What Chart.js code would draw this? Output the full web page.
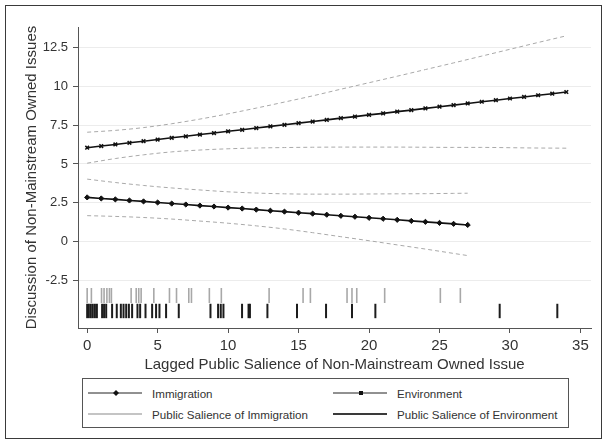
<!DOCTYPE html>
<html><head><meta charset="utf-8">
<script src="https://cdn.jsdelivr.net/npm/chart.js@4.4.1/dist/chart.umd.min.js"></script>
<style>
html,body{margin:0;padding:0;background:#fff;}
#wrap{position:relative;width:603px;height:444px;overflow:hidden;font-family:"Liberation Sans",Arial,sans-serif;}
#frame{position:absolute;left:5px;top:5px;width:597px;height:434px;border:1.5px solid #3a3a3a;box-sizing:border-box;pointer-events:none;}
canvas{position:absolute;left:0;top:0;}
#legend{position:absolute;left:82px;top:378px;width:487px;height:50px;border:1px solid #555;box-sizing:border-box;font-size:11.6px;color:#333;background:#fff;}
.item{position:absolute;display:flex;align-items:center;height:16px;white-space:nowrap;}
.item svg{margin-right:10px;display:block;}
</style></head>
<body>
<div id="wrap">
<canvas id="c" width="603" height="444"></canvas>
<div id="frame"></div>
<div id="legend">
  <div class="item" style="left:5px;top:6px;"><svg width="54" height="10"><line x1="0" y1="5" x2="54" y2="5" stroke="#222" stroke-width="1"/><polygon points="28,2 31,5 28,8 25,5" fill="#111"/></svg><span>Immigration</span></div>
  <div class="item" style="left:250px;top:6px;"><svg width="54" height="10"><line x1="0" y1="5" x2="54" y2="5" stroke="#222" stroke-width="1"/><rect x="26" y="3" width="4" height="4" fill="#111"/></svg><span>Environment</span></div>
  <div class="item" style="left:5px;top:27px;"><svg width="54" height="10"><line x1="0" y1="5" x2="54" y2="5" stroke="#c4c4c4" stroke-width="2"/></svg><span>Public Salience of Immigration</span></div>
  <div class="item" style="left:250px;top:27px;"><svg width="54" height="10"><line x1="0" y1="5" x2="54" y2="5" stroke="#3a3a3a" stroke-width="2"/></svg><span>Public Salience of Environment</span></div>
</div>
</div>
<script>
// ---- data ----
const xTicks = [0, 5, 10, 15, 20, 25, 30, 35];
const yTicks = [-2.5, 0, 2.5, 5, 7.5, 10, 12.5];
const yTickLabels = ["-2.5", "0", "2.5", "5", "7.5", "10", "12.5"];

const immX = [0,1,2,3,4,5,6,7,8,9,10,11,12,13,14,15,16,17,18,19,20,21,22,23,24,25,26,27];
const immPred = [2.84,2.77,2.71,2.64,2.58,2.51,2.44,2.38,2.31,2.25,2.18,2.12,2.05,1.98,1.92,1.85,1.79,1.72,1.65,1.59,1.52,1.46,1.39,1.32,1.26,1.19,1.13,1.06];

const envX = [0,1,2,3,4,5,6,7,8,9,10,11,12,13,14,15,16,17,18,19,20,21,22,23,24,25,26,27,28,29,30,31,32,33,34];
const envPred = [6.05,6.16,6.26,6.37,6.47,6.58,6.69,6.79,6.90,7.00,7.11,7.21,7.32,7.43,7.53,7.64,7.74,7.85,7.96,8.06,8.17,8.27,8.38,8.48,8.59,8.70,8.80,8.91,9.02,9.12,9.23,9.33,9.44,9.54,9.65];

const immCiX = [0,2,4,6,8,10,12,14,16,18,20,22,24,26,27];
const immUpper = [4.02,3.80,3.61,3.45,3.32,3.20,3.12,3.07,3.05,3.05,3.06,3.07,3.08,3.10,3.11];
const immLower = [1.66,1.61,1.54,1.44,1.31,1.17,1.00,0.80,0.56,0.30,0.04,-0.23,-0.50,-0.78,-0.92];

const envCiX = [0,2,4,6,8,10,12,14,16,18,20,22,24,26,28,30,32,34];
const envUpper = [7.05,7.17,7.35,7.60,7.90,8.24,8.61,9.00,9.40,9.83,10.25,10.67,11.10,11.53,11.97,12.41,12.85,13.28];
const envLower = [5.05,5.35,5.59,5.78,5.90,5.98,6.03,6.06,6.08,6.09,6.09,6.09,6.08,6.07,6.07,6.05,6.03,6.02];

const immSalience = [0.0,0.3,1.02,1.2,1.4,1.58,1.72,3.12,3.48,3.66,3.83,4.73,5.84,6.34,7.21,7.4,8.67,9.52,12.91,15.32,15.84,18.44,18.79,19.13,21.11,25.06,26.48];
const envSalience = [0.0,0.12,0.26,0.4,0.55,0.69,1.06,1.2,1.35,1.77,2.1,2.39,2.58,2.77,2.96,3.19,3.57,3.76,4.14,4.61,4.89,5.13,5.6,6.5,8.75,9.29,9.48,9.67,10.99,11.45,11.55,12.79,14.89,16.95,18.79,20.45,29.27,33.36];
const immRugY = -3.5;
const envRugY = -4.5;

// ---- build ----
const pts = (xs, ys) => xs.map((x, i) => ({x: x, y: ys[i]}));
const rug = (xs, y) => xs.map(x => ({x: x, y: y}));

Chart.defaults.font.family = "'Liberation Sans', Arial, sans-serif";
Chart.defaults.color = '#333';

const ciStyle = {showLine: true, borderColor: '#a9a9a9', borderWidth: 1, borderDash: [4, 3], pointRadius: 0, cubicInterpolationMode: 'monotone', fill: false, order: 2};

new Chart(document.getElementById('c'), {
  type: 'scatter',
  data: {
    datasets: [
      {label: 'Immigration', data: pts(immX, immPred), showLine: true, borderColor: '#111', borderWidth: 1.6,
       pointStyle: 'rectRot', pointRadius: 2.6, pointBackgroundColor: '#111', pointBorderColor: '#111', pointBorderWidth: 1, order: 0},
      {label: 'Environment', data: pts(envX, envPred), showLine: true, borderColor: '#111', borderWidth: 1.6,
       pointStyle: 'crossRot', pointRadius: 2.6, pointBackgroundColor: '#111', pointBorderColor: '#111', pointBorderWidth: 1.5, order: 0},
      Object.assign({label: 'Imm upper', data: pts(immCiX, immUpper)}, ciStyle),
      Object.assign({label: 'Imm lower', data: pts(immCiX, immLower)}, ciStyle),
      Object.assign({label: 'Env upper', data: pts(envCiX, envUpper)}, ciStyle),
      Object.assign({label: 'Env lower', data: pts(envCiX, envLower)}, ciStyle),
      {label: 'Public Salience of Immigration', data: rug(immSalience, immRugY), showLine: false,
       pointStyle: 'line', pointRotation: 90, pointRadius: 7.5, pointBorderWidth: 1.6, pointBorderColor: '#a8a8a8', order: 3},
      {label: 'Public Salience of Environment', data: rug(envSalience, envRugY), showLine: false,
       pointStyle: 'line', pointRotation: 90, pointRadius: 7.2, pointBorderWidth: 2, pointBorderColor: '#1c1c1c', order: 3}
    ]
  },
  options: {
    responsive: false,
    animation: false,
    events: [],
    devicePixelRatio: 1,
    layout: {padding: {left: 0, top: 27, right: 12, bottom: 70}},
    plugins: {legend: {display: false}, tooltip: {enabled: false}},
    scales: {
      x: {
        type: 'linear', min: -0.65, max: 35.75,
        afterBuildTicks: s => { s.ticks = xTicks.map(v => ({value: v})); },
        afterFit: s => { s.height = 46; },
        ticks: {font: {size: 15}, color: '#333', padding: 4, maxRotation: 0, autoSkip: false},
        grid: {drawOnChartArea: false, drawTicks: true, tickLength: 5, color: '#555'},
        border: {color: '#555', width: 1},
        title: {display: true, text: 'Lagged Public Salience of Non-Mainstream Owned Issue', font: {size: 15}, color: '#333', padding: 0}
      },
      y: {
        type: 'linear', min: -5.6, max: 13.85,
        afterBuildTicks: s => { s.ticks = yTicks.map(v => ({value: v})); },
        afterFit: s => { s.width = 78; },
        ticks: {font: {size: 13}, color: '#333', padding: 5, callback: (v, i) => yTickLabels[i]},
        grid: {color: '#ececec', lineWidth: 1, tickColor: '#555', tickLength: 5, drawTicks: true},
        border: {color: '#555', width: 1},
        title: {display: true, text: 'Discussion of Non-Mainstream Owned Issues', font: {size: 15}, color: '#333', padding: {top: 23, bottom: 0}}
      }
    }
  }
});
</script>
</body></html>
